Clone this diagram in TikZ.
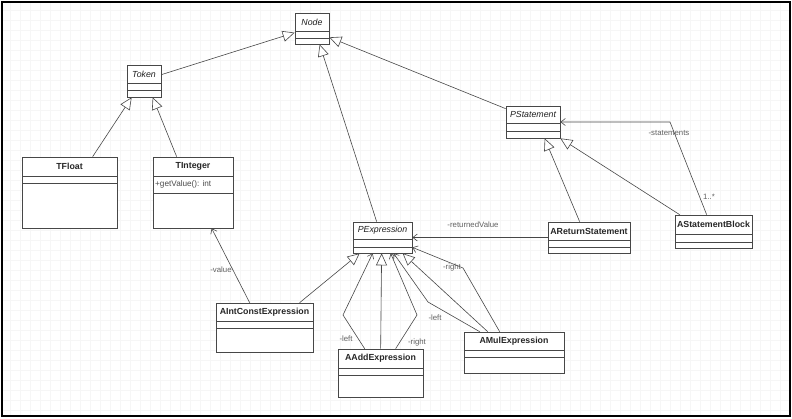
\documentclass[tikz,border=0pt]{standalone}
\usepackage{fontspec}
\setmainfont{Liberation Sans}
\usetikzlibrary{arrows.meta,calc,shadows}

\tikzset{
  umlbox/.style={draw=black!72, line width=0.7pt, fill=white, inner sep=0pt,
    drop shadow={shadow xshift=1.3pt, shadow yshift=-1.3pt, fill=black!35, opacity=0.5}},
  boxline/.style={draw=black!72, line width=0.7pt},
  cname/.style={font=\fontsize{8.8}{10}\selectfont\bfseries, text=black!85, inner sep=0pt},
  aname/.style={font=\fontsize{8.8}{10}\selectfont\itshape, text=black!88, inner sep=0pt},
  member/.style={font=\fontsize{8.2}{10}\selectfont, text=black!70, inner sep=0pt},
  gen/.style={draw=black!72, line width=0.6pt, -{Triangle[open, length=12pt, width=11pt, fill=white]}},
  assoc/.style={draw=black!72, line width=0.6pt, -{Straight Barb[length=4.5pt, width=7pt]}},
  lbl/.style={font=\fontsize{7.8}{9}\selectfont, text=black!62, inner sep=0.5pt},
  gridline/.style={draw=black!3.5, line width=0.4pt},
  frame/.style={draw=black, line width=2pt},
}

% #1 name, #2 x1, #3 y1, #4 x2, #5 y2, #6 first divider, #7 second divider, #8 text style, #9 text
\newcommand\umlclass[9]{%
  \node[umlbox, minimum width={(#4-#2)*1pt}, minimum height={(#5-#3)*1pt}] (#1) at ({(#2+#4)/2},{(#3+#5)/2}) {};
  \draw[boxline] (#2,#6) -- (#4,#6) (#2,#7) -- (#4,#7);
  \node[#8] (#1-name) at ({(#2+#4)/2},{(#3+#6)/2}) {#9};
}

\begin{document}
\begin{tikzpicture}[x=1pt, y=-1pt]
  \useasboundingbox (0,0) rectangle (792,418);
  \fill[white] (0,0) rectangle (792,418);
  \draw[gridline, step=10pt] (3,3) grid (789,415);
  \draw[frame] (2,2) rectangle (790,416);

  % classes
  \umlclass{Node}{295}{13}{329}{44}{31}{38}{aname}{Node}
  \umlclass{Token}{127}{65}{161}{97}{83}{90}{aname}{Token}
  \umlclass{TFloat}{22}{157}{117}{228}{176}{183}{cname}{TFloat}
  \umlclass{TInteger}{153}{157}{233}{228}{176}{193}{cname}{TInteger}
  \node[member, anchor=west] (TInteger-op) at (155,184.5) {+getValue(): int};
  \umlclass{PStatement}{506}{106}{560}{138}{123}{131}{aname}{PStatement}
  \umlclass{PExpr}{353}{222}{412}{253}{239}{247}{aname}{PExpression}
  \umlclass{ARet}{548}{222}{630}{253}{240}{247}{cname}{AReturnStatement}
  \umlclass{ASB}{675}{215}{752}{248}{234}{242}{cname}{AStatementBlock}
  \umlclass{AInt}{216}{303}{313}{352}{321}{328}{cname}{AIntConstExpression}
  \umlclass{AAdd}{338}{349}{423}{397}{368}{375}{cname}{AAddExpression}
  \umlclass{AMul}{464}{332}{564}{373}{350}{357}{cname}{AMulExpression}

  % bend points
  \coordinate (bAddL) at (343,315);
  \coordinate (bAddR) at (417,315);
  \coordinate (bMulL) at (428,302);
  \coordinate (bMulR) at (463,268);
  \coordinate (bSB) at (670,122);

  % generalisations
  \draw[gen] ($(Token.north east)+(0,10)$) -- ($(Node.north west)+(0,20)$);
  \draw[gen] ($(PExpr.north west)+(24,0)$) -- ($(Node.south west)+(25,0)$);
  \draw[gen] ($(PStatement.north west)+(0,3)$) -- ($(Node.south east)+(0,-7)$);
  \draw[gen] ($(TFloat.north west)+(71,0)$) -- ($(Token.south west)+(5,0)$);
  \draw[gen] ($(TInteger.north west)+(24,0)$) -- ($(Token.south west)+(26,0)$);
  \draw[gen] ($(AInt.north west)+(84,0)$) -- ($(PExpr.south west)+(7,0)$);
  \draw[gen] ($(AAdd.north west)+(43,0)$) -- ($(PExpr.south west)+(29,0)$);
  \draw[gen] ($(AMul.north west)+(24,0)$) -- ($(PExpr.south west)+(50,0)$);
  \draw[gen] ($(ARet.north west)+(32,0)$) -- ($(PStatement.south west)+(39,0)$);
  \draw[gen] ($(ASB.north west)+(5,0)$) -- (PStatement.south east);

  % associations
  \draw[assoc] ($(AInt.north west)+(34,0)$) -- ($(TInteger.south west)+(59,0)$);
  \draw[assoc] ($(AAdd.north west)+(27,0)$) -- (bAddL) -- ($(PExpr.south west)+(20,0)$);
  \draw[assoc] ($(AAdd.north west)+(58,0)$) -- (bAddR) -- ($(PExpr.south west)+(38,0)$);
  \draw[assoc] ($(AMul.north west)+(16,0)$) -- (bMulL) -- ($(PExpr.south west)+(41,0)$);
  \draw[assoc] ($(AMul.north west)+(36,0)$) -- (bMulR) -- ($(PExpr.south east)+(0,-6)$);
  \draw[assoc] (ARet.west) -- (PExpr.east);
  \draw[assoc] ($(ASB.north west)+(32,0)$) -- (bSB) -- (PStatement.east);

  % labels
  \node[lbl] (lValue) at (221,270) {-value};
  \node[lbl] (lAddL) at (346,339) {-left};
  \node[lbl] (lAddR) at (417,342) {-right};
  \node[lbl] (lMulL) at (435,318) {-left};
  \node[lbl] (lMulR) at (452,267) {-right};
  \node[lbl] (lRet) at (473,225) {-returnedValue};
  \node[lbl] (lStm) at (669,133) {-statements};
  \node[lbl] (lMult) at (709,197) {1..*};
\end{tikzpicture}
\end{document}
